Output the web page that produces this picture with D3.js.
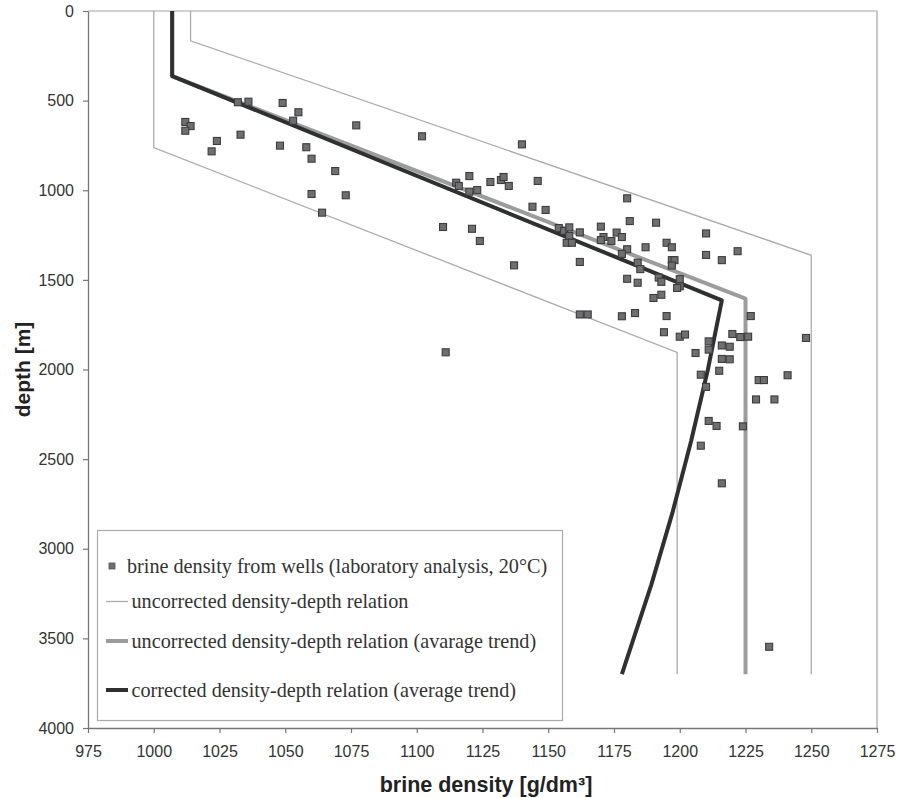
<!DOCTYPE html>
<html>
<head>
<meta charset="utf-8">
<script src="https://cdn.jsdelivr.net/npm/d3@7"></script>
<style>
  html, body { margin: 0; padding: 0; background: #fff; }
  svg { display: block; }
</style>
</head>
<body>
<svg id="chart" width="898" height="798"></svg>
<script>
// Brine density measured in wells (g/dm³) and the sampling depth (m)
const wellDensity = [
  1032, 1036, 1049, 1055, 1053, 1012, 1014, 1012, 1033, 1024, 1022, 1048, 1058, 1060, 1060, 1064,
  1077, 1102, 1140, 1069, 1073, 1115, 1116, 1120, 1120, 1123, 1128, 1132, 1133, 1135,
  1110, 1121, 1124, 1144, 1146, 1149, 1137, 1154, 1156, 1158, 1158, 1162, 1157, 1159, 1162, 1162, 1165, 1111,
  1180, 1170, 1181, 1191, 1210, 1171, 1170, 1174, 1176, 1178, 1180, 1178, 1187, 1195, 1197, 1210, 1216, 1222,
  1184, 1185, 1197, 1198, 1197, 1180, 1184, 1192, 1193, 1200, 1200, 1199, 1190, 1193,
  1178, 1183, 1195, 1227, 1194, 1200, 1202, 1220, 1223, 1226, 1248, 1206, 1211, 1211, 1216, 1219, 1216, 1219,
  1215, 1208, 1210, 1230, 1232, 1241, 1229, 1236, 1211, 1214, 1224, 1208, 1216, 1234
];
const wellDepth = [
  509, 506, 513, 565, 612, 619, 642, 668, 690, 725, 783, 751, 760, 824, 1021, 1125,
  638, 699, 744, 893, 1028, 958, 976, 921, 1008, 999, 954, 943, 926, 976,
  1205, 1215, 1283, 1092, 948, 1110, 1419, 1211, 1227, 1207, 1255, 1235, 1293, 1293, 1400, 1693, 1693, 1904,
  1045, 1203, 1172, 1181, 1241, 1261, 1278, 1283, 1236, 1261, 1329, 1355, 1318, 1293, 1318, 1361, 1390, 1340,
  1404, 1440, 1390, 1390, 1420, 1494, 1516, 1487, 1511, 1496, 1536, 1545, 1601, 1583,
  1703, 1685, 1702, 1702, 1792, 1817, 1805, 1802, 1819, 1817, 1824, 1908, 1843, 1889, 1866, 1873, 1941, 1943,
  2007, 2029, 2097, 2059, 2059, 2032, 2167, 2167, 2287, 2315, 2317, 2425, 2635, 3547
];

// Density-depth relations as [density, depth] vertices
const uncorrectedLow  = [[1000, 0], [1000, 762], [1199, 1905], [1199, 3700]];
const uncorrectedHigh = [[1014, 0], [1014, 166], [1250, 1363], [1250, 3700]];
const uncorrectedAvg  = [[1007, 0], [1007, 363], [1225, 1605], [1225, 3700]];
const correctedAvg    = [[1007, 0], [1007, 363], [1216, 1614], [1210.7, 2000], [1204.3, 2400],
                         [1197.2, 2800], [1189.2, 3200], [1178, 3700]];

const xTicks = [975, 1000, 1025, 1050, 1075, 1100, 1125, 1150, 1175, 1200, 1225, 1250, 1275];
const yTicks = [0, 500, 1000, 1500, 2000, 2500, 3000, 3500, 4000];

const legendLabels = [
  "brine density from wells (laboratory analysis, 20°C)",
  "uncorrected density-depth relation",
  "uncorrected density-depth relation (avarage trend)",
  "corrected density-depth relation (average trend)"
];

const svg = d3.select("#chart");
const plotLeft = 88, plotRight = 877, plotTop = 11, plotBottom = 728;

const x = d3.scaleLinear().domain([975, 1275]).range([plotLeft, plotRight]);
const y = d3.scaleLinear().domain([0, 4000]).range([plotTop, plotBottom]);

const sans = "'Liberation Sans', Arial, sans-serif";
const serif = "'Liberation Serif', 'Times New Roman', serif";
const fmt = d3.format("d");

// plot frame (top and right edges)
svg.append("path")
  .attr("d", `M${plotLeft},${plotTop}H${plotRight}V${plotBottom}`)
  .attr("fill", "none").attr("stroke", "#a4a4a4").attr("stroke-width", 1.2);

// axes
const xAxis = svg.append("g")
  .attr("transform", `translate(0,${plotBottom})`)
  .call(d3.axisBottom(x).tickValues(xTicks).tickFormat(fmt)
    .tickSize(5).tickSizeOuter(0).tickPadding(13));
const yAxis = svg.append("g")
  .attr("transform", `translate(${plotLeft},0)`)
  .call(d3.axisLeft(y).tickValues(yTicks).tickFormat(fmt)
    .tickSize(5).tickSizeOuter(0).tickPadding(9));

[xAxis, yAxis].forEach(g => {
  g.select(".domain").attr("stroke", "#777").attr("stroke-width", 1.3);
  g.selectAll(".tick line").attr("stroke", "#777").attr("stroke-width", 1.2);
  g.selectAll(".tick text")
    .attr("fill", "#333").style("font-family", sans).style("font-size", "16px");
});

// axis titles
svg.append("text")
  .attr("x", 486).attr("y", 792)
  .attr("text-anchor", "middle")
  .style("font-family", sans).style("font-size", "21.5px").style("font-weight", "bold")
  .attr("fill", "#222")
  .text("brine density [g/dm³]");

svg.append("text")
  .attr("transform", `translate(30,${(plotTop + plotBottom) / 2}) rotate(-90)`)
  .attr("text-anchor", "middle")
  .style("font-family", sans).style("font-size", "21px").style("font-weight", "bold")
  .attr("fill", "#222")
  .text("depth [m]");

// relation lines
const line = d3.line().x(d => x(d[0])).y(d => y(d[1]));

const thinStyle = { stroke: "#ababab", width: 1.3 };
const avgStyle = { stroke: "#9c9c9c", width: 4 };
const corrStyle = { stroke: "#2f3032", width: 4 };

[uncorrectedLow, uncorrectedHigh].forEach(pts => {
  svg.append("path").attr("d", line(pts))
    .attr("fill", "none").attr("stroke", thinStyle.stroke).attr("stroke-width", thinStyle.width);
});
svg.append("path").attr("d", line(uncorrectedAvg))
  .attr("fill", "none").attr("stroke", avgStyle.stroke).attr("stroke-width", avgStyle.width)
  .attr("stroke-linejoin", "round");
svg.append("path").attr("d", line(correctedAvg))
  .attr("fill", "none").attr("stroke", corrStyle.stroke).attr("stroke-width", corrStyle.width)
  .attr("stroke-linejoin", "round");

// well samples
const m = 7;
svg.append("g").selectAll("rect")
  .data(d3.range(wellDensity.length))
  .join("rect")
  .attr("x", i => x(wellDensity[i]) - m / 2)
  .attr("y", i => y(wellDepth[i]) - m / 2)
  .attr("width", m).attr("height", m)
  .attr("fill", "#6f6f71").attr("stroke", "#3c3c3e").attr("stroke-width", 1.1);

// legend
const lg = svg.append("g");
lg.append("rect")
  .attr("x", 97.5).attr("y", 530.5).attr("width", 465).attr("height", 190)
  .attr("fill", "#fff").attr("stroke", "#aaa").attr("stroke-width", 1.2);

const rowY = [566, 601.5, 641, 690];
lg.append("rect")
  .attr("x", 112 - 3).attr("y", rowY[0] - 3).attr("width", 6).attr("height", 6)
  .attr("fill", "#6f6f71").attr("stroke", "#555").attr("stroke-width", 0.8);
lg.append("line").attr("x1", 106).attr("x2", 128).attr("y1", rowY[1]).attr("y2", rowY[1])
  .attr("stroke", thinStyle.stroke).attr("stroke-width", thinStyle.width);
lg.append("line").attr("x1", 106).attr("x2", 128).attr("y1", rowY[2]).attr("y2", rowY[2])
  .attr("stroke", avgStyle.stroke).attr("stroke-width", avgStyle.width);
lg.append("line").attr("x1", 106).attr("x2", 128).attr("y1", rowY[3]).attr("y2", rowY[3])
  .attr("stroke", corrStyle.stroke).attr("stroke-width", corrStyle.width);

const textX = [127, 131.5, 131.5, 131.5];
legendLabels.forEach((t, i) => {
  lg.append("text")
    .attr("x", textX[i]).attr("y", rowY[i] + 6.5)
    .style("font-family", serif).style("font-size", "20.2px")
    .attr("fill", "#333")
    .text(t);
});
</script>
</body>
</html>
